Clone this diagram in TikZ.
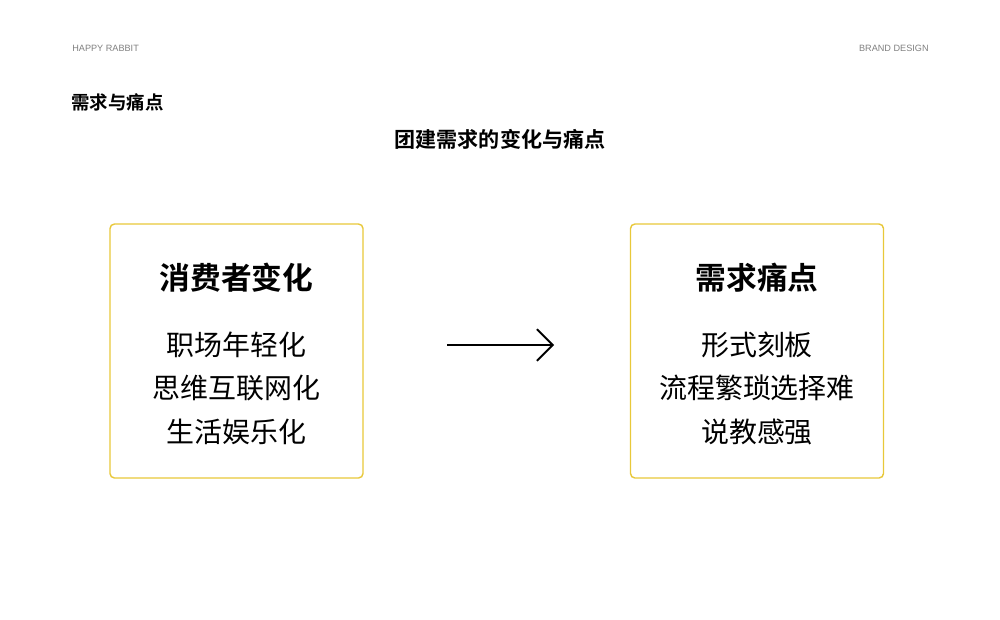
\documentclass[tikz,border=0pt]{standalone}
\usepackage{fontspec}
\setmainfont{Liberation Sans}
\newfontfamily\cjk{Noto Sans CJK SC}
\newfontfamily\cjkb{Noto Sans CJK SC Bold}
\usetikzlibrary{arrows.meta}

\begin{document}
\begin{tikzpicture}[x=0.02cm,y=-0.02cm]
\tikzset{
  card/.style={draw=cardyellow, line width=0.8pt, rounded corners=2.5pt,
    minimum width=5.06cm, minimum height=5.08cm, inner sep=0pt},
  cardtitle/.style={font=\cjkb\fontsize{17.5}{20}\selectfont, inner sep=0pt},
  carditem/.style={font=\cjk\fontsize{15.9}{18}\selectfont, inner sep=0pt},
  corner/.style={font=\fontsize{5.2}{6}\selectfont, text=gray, inner sep=0pt}
}
\definecolor{cardyellow}{HTML}{E8C83A}
\useasboundingbox [fill=white] (0,0) rectangle (1000,619);
% header
\node [corner, anchor=west] (brand) at (72,48) {HAPPY RABBIT};
\node [corner, anchor=east] (design) at (929,48) {BRAND DESIGN};
\node [font=\cjkb\fontsize{10.5}{12}\selectfont, inner sep=0pt, anchor=west] (section) at (71,102) {需求与痛点};
\node [font=\cjkb\fontsize{12}{14}\selectfont, inner sep=0pt] (heading) at (500,139) {团建需求的变化与痛点};
% left card
\node [card] (left) at (236.5,351) {};
\node [cardtitle] (lefttitle) at (236.5,278) {消费者变化};
\node [carditem] (l1) at (236.5,345) {职场年轻化};
\node [carditem] (l2) at (236.5,388) {思维互联网化};
\node [carditem] (l3) at (236.5,432) {生活娱乐化};
% right card
\node [card] (right) at (757,351) {};
\node [cardtitle] (righttitle) at (757,278) {需求痛点};
\node [carditem] (r1) at (757,345) {形式刻板};
\node [carditem] (r2) at (757,388) {流程繁琐选择难};
\node [carditem] (r3) at (757,432) {说教感强};
% arrow
\coordinate (from) at (447,345);
\coordinate (to) at (554,345);
\draw [line width=1.1pt, -{Straight Barb[length=9pt,width=18pt,line width=1.1pt]}] (from) -- (to);
\end{tikzpicture}
\end{document}
